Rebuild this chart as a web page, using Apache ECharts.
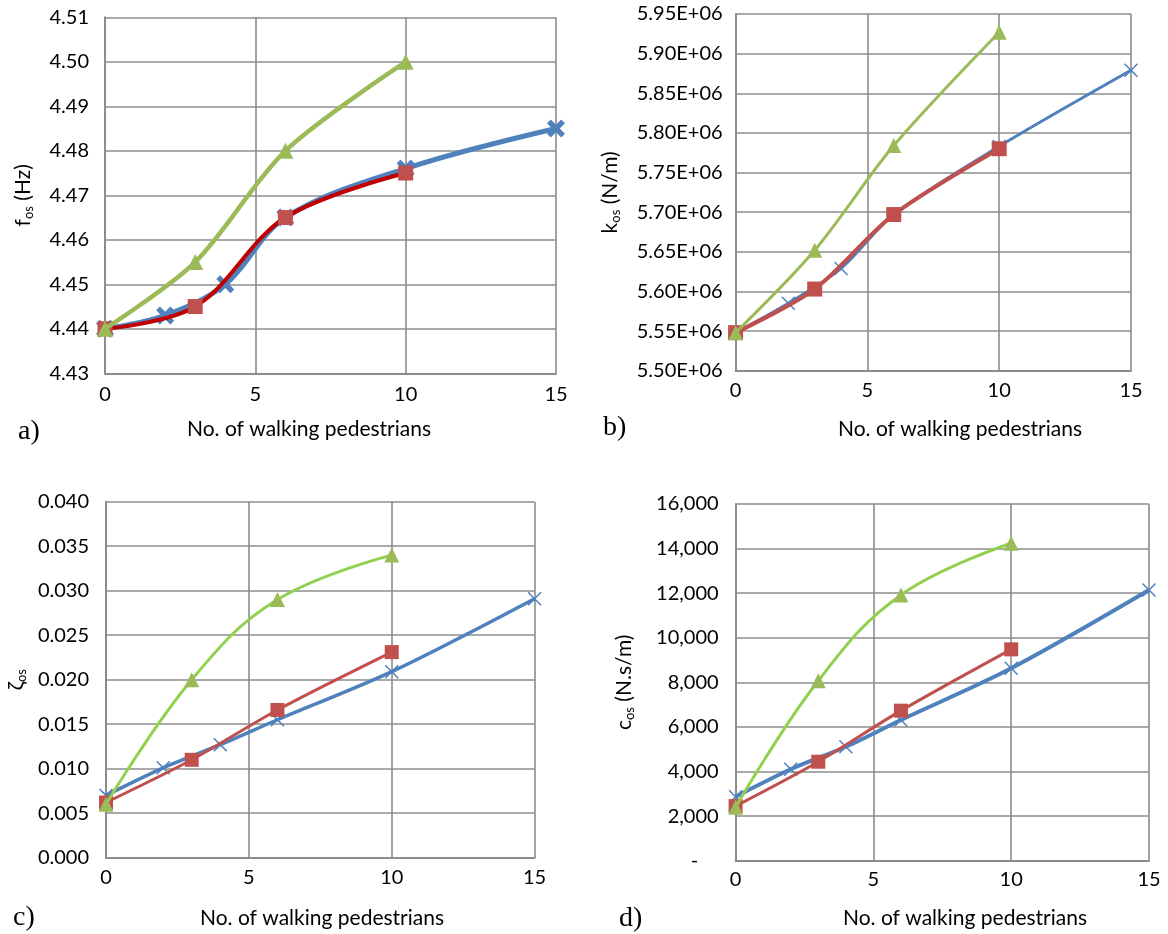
<!DOCTYPE html>
<html>
<head>
<meta charset="utf-8">
<script src="https://cdn.jsdelivr.net/npm/echarts@6/dist/echarts.min.js"></script>
<style>
  html, body { margin: 0; padding: 0; background: #ffffff; }
  #chart { width: 1168px; height: 934px; }
</style>
</head>
<body>
<div id="chart"></div>
<script>
// Number of walking pedestrians for each test series
const pedBlue = [0, 2, 4, 6, 10, 15];
const pedRed = [0, 3, 6, 10];
const pedGreen = [0, 3, 6, 10];

// a) natural frequency f_os (Hz)
const freqBlue = [4.440, 4.443, 4.450, 4.465, 4.476, 4.485];
const freqRed = [4.440, 4.445, 4.465, 4.475];
const freqGreen = [4.440, 4.455, 4.480, 4.500];

// b) stiffness k_os (N/m)
const stiffBlue = [5.548e6, 5.585e6, 5.629e6, 5.697e6, 5.783e6, 5.879e6];
const stiffRed = [5.548e6, 5.603e6, 5.697e6, 5.780e6];
const stiffGreen = [5.548e6, 5.652e6, 5.784e6, 5.927e6];

// c) damping ratio zeta_os
const zetaBlue = [0.0070, 0.0101, 0.0127, 0.0155, 0.0209, 0.0291];
const zetaRed = [0.0062, 0.0110, 0.0166, 0.0231];
const zetaGreen = [0.0060, 0.0200, 0.0290, 0.0340];

// d) damping coefficient c_os (N.s/m)
const dampBlue = [2870, 4100, 5110, 6310, 8630, 12140];
const dampRed = [2450, 4440, 6730, 9480];
const dampGreen = [2400, 8070, 11920, 14240];

// Axis texts
const xTitle = 'No. of walking pedestrians';
const yTitles = [
  '{t|f}{s|os}{t| (Hz)}',
  '{t|k}{s|os}{t| (N/m)}',
  '{t|ζ}{s|os}',
  '{t|c}{s|os}{t| (N.s/m)}'
];
const panelLetters = ['a)', 'b)', 'c)', 'd)'];

const BLUE = '#4F81BD';
const RED = '#C0504D';
const DARK_RED = '#C00000';
const GREEN = '#9BBB59';
const LIGHT_GREEN = '#92D050';
const GRID_COLOR = '#8C8C8C';
const FONT = 'Lato, "Open Sans", sans-serif';

// cross-shaped marker with arm thickness w (in a 100-unit box)
function crossPath(w) {
  return 'path://M' + w + ',0L50,' + (50 - w) + 'L' + (100 - w) + ',0L100,' + w +
    'L' + (50 + w) + ',50L100,' + (100 - w) + 'L' + (100 - w) + ',100L50,' + (50 + w) +
    'L' + w + ',100L0,' + (100 - w) + 'L' + (50 - w) + ',50L0,' + w + 'Z';
}

function pairs(xs, ys) { return xs.map((x, i) => [x, ys[i]]); }

const grids = [
  { left: 105, top: 17.3, width: 451, height: 356 },
  { left: 735.6, top: 14, width: 395.4, height: 356.7 },
  { left: 106, top: 501.7, width: 428.6, height: 356 },
  { left: 735.6, top: 504, width: 413.4, height: 356.7 }
];

const yRanges = [
  { min: 4.43, max: 4.51, interval: 0.01, fmt: v => v.toFixed(2), gap: 70, margin: 16 },
  { min: 5.50e6, max: 5.95e6, interval: 0.05e6, fmt: v => (v / 1e6).toFixed(2) + 'E+06', gap: 113, margin: 13 },
  { min: 0, max: 0.04, interval: 0.005, fmt: v => v.toFixed(3), gap: 78, margin: 17 },
  { min: 0, max: 16000, interval: 2000, fmt: v => (Math.abs(v) < 1e-9 ? '-    ' : Math.round(v).toLocaleString('en-US')), gap: 99, margin: 17 }
];
const xMargins = [11, 10, 10, 9];

const xAxes = grids.map((g, i) => ({
  type: 'value', gridIndex: i, min: 0, max: 15, interval: 5,
  axisLine: { show: true, onZero: false, lineStyle: { color: GRID_COLOR, width: 2 } },
  axisTick: { show: false },
  splitLine: { show: true, lineStyle: { color: GRID_COLOR, width: 1.6 } },
  axisLabel: { color: '#000', fontFamily: FONT, fontSize: 20, margin: xMargins[i] }
}));

const yAxes = yRanges.map((r, i) => ({
  type: 'value', gridIndex: i, min: r.min, max: r.max, interval: r.interval,
  axisLine: { show: true, onZero: false, lineStyle: { color: GRID_COLOR, width: 2 } },
  axisTick: { show: false },
  splitLine: { show: true, lineStyle: { color: GRID_COLOR, width: 1.6 } },
  axisLabel: { color: '#000', fontFamily: FONT, fontSize: 20, margin: r.margin, formatter: r.fmt },
  name: yTitles[i],
  nameLocation: 'middle',
  nameRotate: 90,
  nameGap: r.gap,
  nameTextStyle: {
    rich: {
      t: { fontFamily: FONT, fontSize: 21, color: '#000' },
      s: { fontFamily: FONT, fontSize: 13, color: '#000', padding: [11, 0, 0, 0] }
    }
  }
}));

function lineSeries(idx, xs, ys, opt) {
  return {
    type: 'line', xAxisIndex: idx, yAxisIndex: idx,
    data: pairs(xs, ys),
    smooth: opt.smooth,
    clip: false,
    symbol: opt.symbol,
    symbolSize: opt.size,
    lineStyle: { color: opt.line, width: opt.width },
    itemStyle: { color: opt.marker },
    emphasis: { disabled: true },
    z: opt.z
  };
}

const thickCross = crossPath(21);
const thinCross = crossPath(7.5);

const series = [
  // a)
  lineSeries(0, pedBlue, freqBlue, { smooth: 0.35, symbol: thickCross, size: 18, line: BLUE, width: 5, marker: BLUE, z: 2 }),
  lineSeries(0, pedRed, freqRed, { smooth: 0.35, symbol: 'rect', size: 15, line: DARK_RED, width: 4, marker: RED, z: 3 }),
  lineSeries(0, pedGreen, freqGreen, { smooth: 0.3, symbol: 'triangle', size: 16, line: GREEN, width: 4.5, marker: GREEN, z: 4 }),
  // b)
  lineSeries(1, pedBlue, stiffBlue, { smooth: 0.3, symbol: thinCross, size: 14, line: BLUE, width: 3, marker: BLUE, z: 2 }),
  lineSeries(1, pedRed, stiffRed, { smooth: 0.3, symbol: 'rect', size: 15, line: RED, width: 4, marker: RED, z: 3 }),
  lineSeries(1, pedGreen, stiffGreen, { smooth: 0.3, symbol: 'triangle', size: 15, line: GREEN, width: 3, marker: GREEN, z: 4 }),
  // c)
  lineSeries(2, pedBlue, zetaBlue, { smooth: 0.3, symbol: thinCross, size: 14, line: BLUE, width: 3.5, marker: BLUE, z: 2 }),
  lineSeries(2, pedRed, zetaRed, { smooth: 0.3, symbol: 'rect', size: 14, line: RED, width: 3, marker: RED, z: 3 }),
  lineSeries(2, pedGreen, zetaGreen, { smooth: 0.4, symbol: 'triangle', size: 15, line: LIGHT_GREEN, width: 3, marker: GREEN, z: 4 }),
  // d)
  lineSeries(3, pedBlue, dampBlue, { smooth: 0.3, symbol: thinCross, size: 14, line: BLUE, width: 4, marker: BLUE, z: 2 }),
  lineSeries(3, pedRed, dampRed, { smooth: 0.3, symbol: 'rect', size: 14, line: RED, width: 3, marker: RED, z: 3 }),
  lineSeries(3, pedGreen, dampGreen, { smooth: 0.4, symbol: 'triangle', size: 15, line: LIGHT_GREEN, width: 3, marker: GREEN, z: 4 })
];

// axis titles below each panel and the panel letters
const titlePos = [[309, 429], [960, 429], [322, 918], [965, 918]];
const letterPos = [[18, 432], [603, 428], [13, 918], [619, 919]];
const graphics = [];
titlePos.forEach(p => graphics.push({
  type: 'text', x: p[0], y: p[1],
  style: { text: xTitle, fontFamily: FONT, fontSize: 21, fill: '#000', align: 'center', verticalAlign: 'middle' }
}));
letterPos.forEach((p, i) => graphics.push({
  type: 'text', x: p[0], y: p[1],
  style: { text: panelLetters[i], fontFamily: '"Liberation Serif", "Times New Roman", serif', fontSize: 28, fill: '#000', align: 'left', verticalAlign: 'middle' }
}));

const chart = echarts.init(document.getElementById('chart'), null, { renderer: 'canvas' });
chart.setOption({
  animation: false,
  backgroundColor: '#ffffff',
  grid: grids.map(g => Object.assign({ containLabel: false, outerBoundsMode: 'none' }, g)),
  xAxis: xAxes,
  yAxis: yAxes,
  series: series,
  graphic: graphics
});
</script>
</body>
</html>
